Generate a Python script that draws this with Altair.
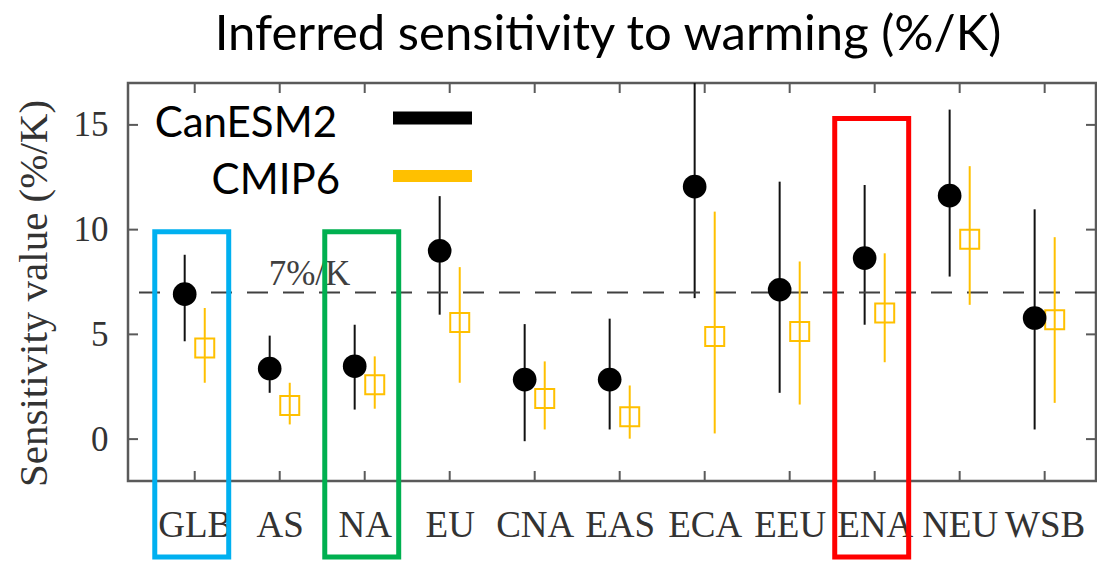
import altair as alt
import pandas as pd

# ---- data ----
regions = ["GLB", "AS", "NA", "EU", "CNA", "EAS", "ECA", "EEU", "ENA", "NEU", "WSB"]

can_val = [6.92, 3.37, 3.48, 8.99, 2.84, 2.84, 12.05, 7.13, 8.64, 11.62, 5.78]
can_lo = [4.67, 2.21, 1.41, 5.94, -0.10, 0.46, 6.73, 2.21, 5.46, 7.76, 0.46]
can_hi = [8.80, 4.94, 5.46, 11.60, 5.49, 5.75, 17.0, 12.29, 12.13, 15.73, 10.97]

cmip_val = [4.35, 1.60, 2.60, 5.57, 1.94, 1.07, 4.90, 5.14, 6.02, 9.54, 5.70]
cmip_lo = [2.69, 0.70, 1.45, 2.69, 0.46, 0.02, 0.27, 1.65, 3.67, 6.41, 1.73]
cmip_hi = [6.26, 2.69, 3.95, 8.21, 3.71, 2.56, 10.86, 8.48, 8.87, 13.03, 9.64]

y_ticks = [0, 5, 10, 15]
ref_value = [7]
ref_label = ["7%/K"]

box_regions = ["GLB", "NA", "ENA"]
box_colors = ["#00B0F0", "#00B050", "#FF0000"]
box_tops = [9.9, 9.9, 15.3]
box_bottom = -5.63

legend_labels = ["CanESM2", "CMIP6"]
title_text = "Inferred sensitivity to warming (%/K)"

# ---- layout ----
W, H = 968, 398
XDOM = [-0.785, 10.604]
YDOM = [-2, 17]
OFF = 0.118
BLACK = "#000000"
YELLOW = "#FFC000"
FRAME = "#5a5a5a"
SERIF = "Liberation Serif"
SANS = "Lato"

idx = list(range(len(regions)))
can_df = pd.DataFrame({"region": regions, "i": idx, "val": can_val, "lo": can_lo, "hi": can_hi})
can_df["x"] = can_df["i"] - OFF
cmip_df = pd.DataFrame({"region": regions, "i": idx, "val": cmip_val, "lo": cmip_lo, "hi": cmip_hi})
cmip_df["x"] = cmip_df["i"] + OFF

xs = alt.Scale(domain=XDOM, nice=False, zero=False)
ys = alt.Scale(domain=YDOM, nice=False, zero=False)

label_expr = "[" + ",".join("'" + r + "'" for r in regions) + "][datum.value]"

x_axis = alt.Axis(values=idx, labelExpr=label_expr, domain=False, ticks=False, grid=False,
                  labelFont=SERIF, labelFontSize=37, labelColor="#333333", labelPadding=26,
                  title=None)
y_axis = alt.Axis(values=y_ticks, domain=False, ticks=False, grid=False,
                  labelFont=SERIF, labelFontSize=35, labelColor="#333333", labelPadding=20,
                  title="Sensitivity value (%/K)", titleFont=SERIF, titleFontSize=41,
                  titleFontWeight="normal", titleColor="#333333",
                  titleX=-94, titleY=210, titleAngle=270,
                  titleAlign="center", titleBaseline="middle")


def X(f):
    return alt.X(f + ":Q", scale=xs, axis=x_axis)


def Y(f):
    return alt.Y(f + ":Q", scale=ys, axis=y_axis)


can_bars = alt.Chart(can_df).mark_rule(color="#111111", strokeWidth=2).encode(
    x=X("x"), y=Y("lo"), y2="hi:Q")
cmip_bars = alt.Chart(cmip_df).mark_rule(color=YELLOW, strokeWidth=2).encode(
    x=X("x"), y=Y("lo"), y2="hi:Q")

# reference line
ref = alt.Chart(pd.DataFrame({"v": ref_value})).mark_rule(
    color="#404040", strokeWidth=2, strokeDash=[21, 15]
).encode(y=Y("v"))

ref_txt = alt.Chart(pd.DataFrame({"t": ref_label, "x": [0.87], "y": [7.35]})).mark_text(
    font=SERIF, fontSize=35, color="#404040", align="left", baseline="alphabetic"
).encode(x=X("x"), y=Y("y"), text="t:N")

can_pts = alt.Chart(can_df).mark_point(shape="circle", filled=True, size=560, color=BLACK,
                                       opacity=1).encode(x=X("x"), y=Y("val"))
cmip_pts = alt.Chart(cmip_df).mark_point(shape="square", filled=False, size=361, strokeWidth=2,
                                         color=YELLOW, opacity=1).encode(x=X("x"), y=Y("val"))

# inward ticks
tdf = pd.DataFrame({"i": idx})
top_ticks = alt.Chart(tdf).mark_rule(color=FRAME, strokeWidth=2).encode(
    x=X("i"), y=alt.value(0), y2=alt.value(10))
bot_ticks = alt.Chart(tdf).mark_rule(color=FRAME, strokeWidth=2).encode(
    x=X("i"), y=alt.value(H), y2=alt.value(H - 10))
ydf = pd.DataFrame({"v": y_ticks})
left_ticks = alt.Chart(ydf).mark_rule(color=FRAME, strokeWidth=2).encode(
    y=Y("v"), x=alt.value(0), x2=alt.value(10))
right_ticks = alt.Chart(ydf).mark_rule(color=FRAME, strokeWidth=2).encode(
    y=Y("v"), x=alt.value(W), x2=alt.value(W - 10))

# highlight boxes
bdf = pd.DataFrame({"region": box_regions, "color": box_colors, "top": box_tops})
bdf["i"] = [regions.index(r) for r in box_regions]
bdf["x1"] = bdf["i"] - 0.47
bdf["x2"] = bdf["i"] + 0.40
bdf["bottom"] = box_bottom
boxes = alt.Chart(bdf).mark_rect(filled=False, strokeWidth=5, clip=False).encode(
    x=X("x1"), x2="x2:Q", y=Y("top"), y2="bottom:Q",
    stroke=alt.Color("color:N", scale=None),
)

# legend (manual)
leg1 = alt.Chart(pd.DataFrame({"t": [legend_labels[0]]})).mark_text(
    font=SANS, fontSize=42, color=BLACK, align="right", baseline="alphabetic"
).encode(text="t:N", x=alt.value(209), y=alt.value(54))
leg2 = alt.Chart(pd.DataFrame({"t": [legend_labels[1]]})).mark_text(
    font=SANS, fontSize=42, color=BLACK, align="right", baseline="alphabetic"
).encode(text="t:N", x=alt.value(212), y=alt.value(110.5))
leg1_line = alt.Chart(pd.DataFrame({"t": [legend_labels[0]]})).mark_rule(
    color=BLACK, strokeWidth=13, strokeCap="butt"
).encode(x=alt.value(265), x2=alt.value(344), y=alt.value(35))
leg2_line = alt.Chart(pd.DataFrame({"t": [legend_labels[1]]})).mark_rule(
    color=YELLOW, strokeWidth=12, strokeCap="butt"
).encode(x=alt.value(265), x2=alt.value(344), y=alt.value(93))

title = alt.Chart(pd.DataFrame({"t": [title_text]})).mark_text(
    font=SANS, fontSize=49, color=BLACK, align="center", baseline="alphabetic"
).encode(text="t:N", x=alt.value(480), y=alt.value(-33))

chart = alt.layer(
    can_bars, ref, ref_txt, cmip_bars, cmip_pts, can_pts,
    top_ticks, bot_ticks, left_ticks, right_ticks,
    leg1, leg2, leg1_line, leg2_line, title, boxes,
).properties(
    width=W, height=H,
    autosize=alt.AutoSizeParams(type="none"),
    padding={"left": 128, "top": 83, "right": 1, "bottom": 82},
    background="white",
).configure_view(stroke=FRAME, strokeWidth=2.5)

chart.save("out.html", embed_options={"renderer": "svg", "actions": False})
